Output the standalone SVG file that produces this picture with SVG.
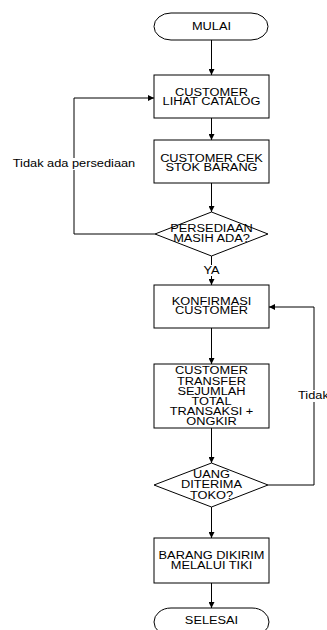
<svg xmlns="http://www.w3.org/2000/svg" width="327" height="630" viewBox="0 0 327 630">
<style>
.s{fill:#fff;stroke:#000;stroke-width:1}
.t{font-family:"Liberation Sans",Arial,sans-serif;font-size:10px;fill:#000;text-anchor:middle}
.c{fill:none;stroke:#000;stroke-width:1}
</style>
<defs>
<marker id="a" viewBox="0 0 10 10" refX="10" refY="5" markerWidth="6" markerHeight="6" markerUnits="userSpaceOnUse" orient="auto">
<path d="M0,0L10,5L0,10Z" fill="#000"/>
</marker>
</defs>
<rect width="327" height="630" fill="#fff"/>
<g id="connectors">
<line class="c" x1="211.5" y1="40" x2="211.5" y2="75" marker-end="url(#a)"/>
<line class="c" x1="211.5" y1="118" x2="211.5" y2="140" marker-end="url(#a)"/>
<line class="c" x1="211.5" y1="183" x2="211.5" y2="212" marker-end="url(#a)"/>
<line class="c" x1="211.5" y1="256" x2="211.5" y2="285" marker-end="url(#a)"/>
<line class="c" x1="211.5" y1="328" x2="211.5" y2="364" marker-end="url(#a)"/>
<line class="c" x1="211.5" y1="428" x2="211.5" y2="463" marker-end="url(#a)"/>
<line class="c" x1="211.5" y1="507" x2="211.5" y2="538" marker-end="url(#a)"/>
<line class="c" x1="211.5" y1="583" x2="211.5" y2="608" marker-end="url(#a)"/>
<polyline class="c" points="155,234 74,234 74,98 154,98" marker-end="url(#a)"/>
<polyline class="c" points="268,485 314,485 314,307 269,307" marker-end="url(#a)"/>
<rect x="202" y="265" width="19" height="11" fill="#fff"/>
<text class="t" transform="matrix(1.28 0 0 1 211.5 274)">YA</text>
<rect x="11" y="158" width="126" height="12" fill="#fff"/>
<text class="t" transform="matrix(1.28 0 0 1 74 167)">Tidak ada persediaan</text>
<rect x="297" y="390" width="30" height="12" fill="#fff"/>
<text class="t" style="text-anchor:start" transform="matrix(1.28 0 0 1 298 399)">Tidak</text>
</g>
<g id="mulai">
<rect class="s" x="154" y="13" width="114" height="27" rx="17" ry="13.5"/>
<text class="t" transform="matrix(1.28 0 0 1 211.5 29.5)">MULAI</text>
</g>
<g id="lihat-catalog">
<rect class="s" x="154" y="75" width="115" height="43"/>
<text class="t" transform="matrix(1.28 0 0 1 211.5 96)">CUSTOMER</text>
<text class="t" transform="matrix(1.28 0 0 1 211.5 105.3)">LIHAT CATALOG</text>
</g>
<g id="cek-stok">
<rect class="s" x="154" y="140" width="115" height="43"/>
<text class="t" transform="matrix(1.28 0 0 1 211.5 162)">CUSTOMER CEK</text>
<text class="t" transform="matrix(1.28 0 0 1 211.5 171.3)">STOK BARANG</text>
</g>
<g id="persediaan">
<polygon class="s" points="155,234 211.5,212 268,234 211.5,256"/>
<text class="t" transform="matrix(1.28 0 0 1 211.5 232)">PERSEDIAAN</text>
<text class="t" transform="matrix(1.28 0 0 1 211.5 242.3)">MASIH ADA?</text>
</g>
<g id="konfirmasi">
<rect class="s" x="154" y="285" width="115" height="43"/>
<text class="t" transform="matrix(1.28 0 0 1 211.5 304.8)">KONFIRMASI</text>
<text class="t" transform="matrix(1.28 0 0 1 211.5 314.3)">CUSTOMER</text>
</g>
<g id="transfer">
<rect class="s" x="154" y="364" width="115" height="64"/>
<text class="t" transform="matrix(1.28 0 0 1 211.5 374.3)">CUSTOMER</text>
<text class="t" transform="matrix(1.28 0 0 1 211.5 384.5)">TRANSFER</text>
<text class="t" transform="matrix(1.28 0 0 1 211.5 394.7)">SEJUMLAH</text>
<text class="t" transform="matrix(1.28 0 0 1 211.5 404.9)">TOTAL</text>
<text class="t" transform="matrix(1.28 0 0 1 211.5 415.1)">TRANSAKSI +</text>
<text class="t" transform="matrix(1.28 0 0 1 211.5 425.3)">ONGKIR</text>
</g>
<g id="uang-diterima">
<polygon class="s" points="154,485 211.5,463 268,485 211.5,507"/>
<text class="t" transform="matrix(1.28 0 0 1 211.5 477.8)">UANG</text>
<text class="t" transform="matrix(1.28 0 0 1 211.5 488.3)">DITERIMA</text>
<text class="t" transform="matrix(1.28 0 0 1 211.5 498.8)">TOKO?</text>
</g>
<g id="dikirim">
<rect class="s" x="154" y="538" width="115" height="45"/>
<text class="t" transform="matrix(1.28 0 0 1 211.5 558.8)">BARANG DIKIRIM</text>
<text class="t" transform="matrix(1.28 0 0 1 211.5 568.8)">MELALUI TIKI</text>
</g>
<g id="selesai">
<rect class="s" x="154" y="608" width="115" height="28" rx="17" ry="14"/>
<text class="t" transform="matrix(1.28 0 0 1 211.5 624.3)">SELESAI</text>
</g>
</svg>
